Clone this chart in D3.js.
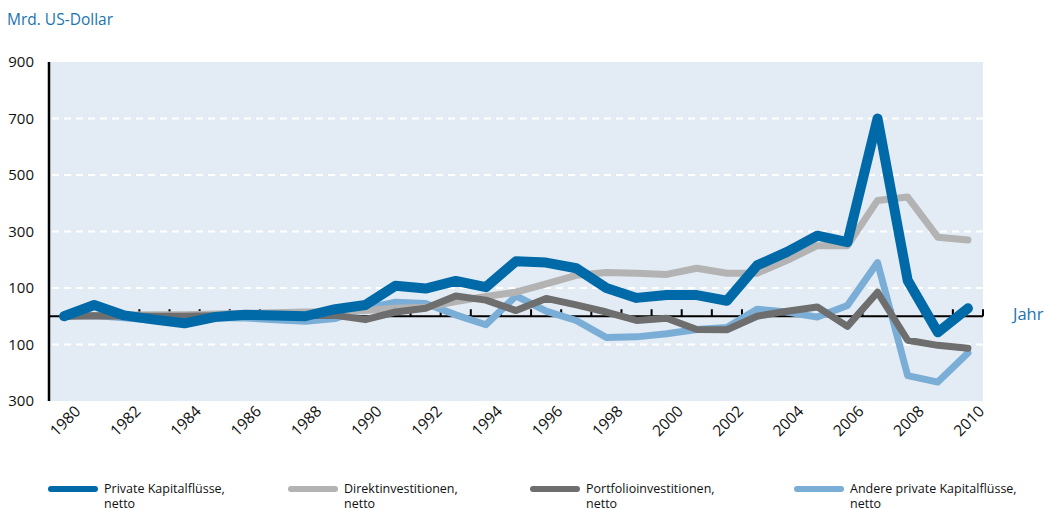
<!DOCTYPE html>
<html>
<head>
<meta charset="utf-8">
<script src="https://cdnjs.cloudflare.com/ajax/libs/d3/7.8.5/d3.min.js"></script>
<style>
  body { margin: 0; background: #fff; }
  svg text { font-family: "Open Sans", "Noto Sans", sans-serif; }
</style>
</head>
<body>
<svg width="1046" height="511"></svg>
<script>
var years = d3.range(1980, 2011);

var privateFlows = [0, 40, 3, -12, -25, -3, 5, 3, 0, 25, 40, 108, 98, 125, 103, 195, 190, 170, 100, 65, 75, 75, 55, 180, 228, 285, 262, 700, 127, -57, 28];
var directInv = [0, 3, 4, 5, 5, 8, 10, 12, 15, 15, 20, 28, 32, 52, 70, 85, 115, 145, 155, 152, 148, 170, 152, 152, 198, 250, 250, 410, 422, 280, 270];
var portfolioInv = [0, 2, 1, 0, 0, 2, 2, 3, 3, 3, -12, 15, 28, 72, 57, 20, 63, 40, 15, -15, -7, -47, -48, 0, 18, 33, -36, 85, -85, -103, -113];
var otherFlows = [0, 3, -5, -15, -25, -5, -6, -12, -18, -8, 28, 50, 45, 5, -30, 72, 18, -15, -75, -73, -62, -47, -40, 25, 15, -3, 38, 190, -210, -233, -130];

var yTicks = [900, 700, 500, 300, 100, -100, -300];
var yTickLabels = ["900", "700", "500", "300", "100", "100", "300"];
var gridValues = [700, 500, 300, 100, -100];

var seriesNames = ["Private Kapitalflüsse,", "Direktinvestitionen,", "Portfolioinvestitionen,", "Andere private Kapitalflüsse,"];

var svg = d3.select("svg");

var x = d3.scaleBand()
    .domain(years)
    .range([49, 983]);

var y = d3.scaleLinear()
    .domain([-300, 900])
    .range([401, 62]);

function cx(yr) { return x(yr) + x.bandwidth() / 2; }

// background
svg.append("rect")
    .attr("x", 49)
    .attr("y", y(900))
    .attr("width", 983 - 49)
    .attr("height", y(-300) - y(900))
    .attr("fill", "#e3ecf4");

// dashed grid
svg.selectAll(".grid")
    .data(gridValues)
    .enter().append("line")
    .attr("class", "grid")
    .attr("x1", 52)
    .attr("x2", 983)
    .attr("y1", function(d) { return y(d); })
    .attr("y2", function(d) { return y(d); })
    .attr("stroke", "#fff")
    .attr("stroke-width", 2)
    .attr("stroke-dasharray", "7,5");

// zero line with ticks at band boundaries
svg.append("line")
    .attr("x1", 49).attr("x2", 983)
    .attr("y1", y(0)).attr("y2", y(0))
    .attr("stroke", "#000")
    .attr("stroke-width", 2);

var boundaries = years.slice(1).map(function(d) { return x(d); }).concat([983]);
svg.selectAll(".xtick")
    .data(boundaries)
    .enter().append("line")
    .attr("class", "xtick")
    .attr("x1", function(d) { return d; })
    .attr("x2", function(d) { return d; })
    .attr("y1", y(0))
    .attr("y2", y(0) - 7)
    .attr("stroke", "#000")
    .attr("stroke-width", 2);

// y axis line
svg.append("line")
    .attr("x1", 49).attr("x2", 49)
    .attr("y1", y(900)).attr("y2", y(-300))
    .attr("stroke", "#000")
    .attr("stroke-width", 2.5);

// y labels
svg.selectAll(".ylab")
    .data(yTicks)
    .enter().append("text")
    .attr("class", "ylab")
    .attr("x", 34)
    .attr("y", function(d) { return y(d); })
    .attr("dy", "0.35em")
    .attr("text-anchor", "end")
    .attr("font-size", 15)
    .attr("fill", "#111")
    .text(function(d, i) { return yTickLabels[i]; });

// x labels
svg.selectAll(".xlab")
    .data(years.filter(function(d) { return d % 2 === 0; }))
    .enter().append("text")
    .attr("class", "xlab")
    .attr("transform", function(d) { return "translate(" + (cx(d) + 1) + ",421) rotate(-45)"; })
    .attr("text-anchor", "middle")
    .attr("dy", "0.35em")
    .attr("font-size", 15.5)
    .attr("fill", "#111")
    .text(function(d) { return d; });

// titles
svg.append("text")
    .attr("x", 7).attr("y", 25)
    .attr("font-size", 15.5)
    .attr("fill", "#1a74b0")
    .text("Mrd. US-Dollar");

svg.append("text")
    .attr("x", 1013).attr("y", 314)
    .attr("dy", "0.35em")
    .attr("font-size", 16.5)
    .attr("fill", "#1a74b0")
    .text("Jahr");

// lines
var line = d3.line()
    .x(function(d, i) { return cx(years[i]); })
    .y(function(d) { return y(d); });

var series = [
    {values: otherFlows, color: "#7aaed6", width: 7},
    {values: directInv, color: "#b3b3b3", width: 7},
    {values: portfolioInv, color: "#6e6e6e", width: 7},
    {values: privateFlows, color: "#006aa8", width: 10}
];

svg.selectAll(".series")
    .data(series)
    .enter().append("path")
    .attr("class", "series")
    .attr("d", function(d) { return line(d.values); })
    .attr("fill", "none")
    .attr("stroke", function(d) { return d.color; })
    .attr("stroke-width", function(d) { return d.width; })
    .attr("stroke-linejoin", "round")
    .attr("stroke-linecap", "round");

// legend
var legendX = [49, 289, 531, 795];
var legendColors = ["#006aa8", "#b3b3b3", "#6e6e6e", "#7aaed6"];

var leg = svg.selectAll(".leg")
    .data(seriesNames)
    .enter().append("g")
    .attr("class", "leg")
    .attr("transform", function(d, i) { return "translate(" + legendX[i] + ",489)"; });

leg.append("line")
    .attr("x1", 2).attr("x2", 46)
    .attr("y1", 0).attr("y2", 0)
    .attr("stroke", function(d, i) { return legendColors[i]; })
    .attr("stroke-width", 6)
    .attr("stroke-linecap", "round");

leg.append("text")
    .attr("x", 55).attr("y", 0)
    .attr("dy", "0.35em")
    .attr("font-size", 12.5)
    .attr("fill", "#111")
    .text(function(d) { return d; });

leg.append("text")
    .attr("x", 55).attr("y", 15)
    .attr("dy", "0.35em")
    .attr("font-size", 12.5)
    .attr("fill", "#111")
    .text("netto");
</script>
</body>
</html>
